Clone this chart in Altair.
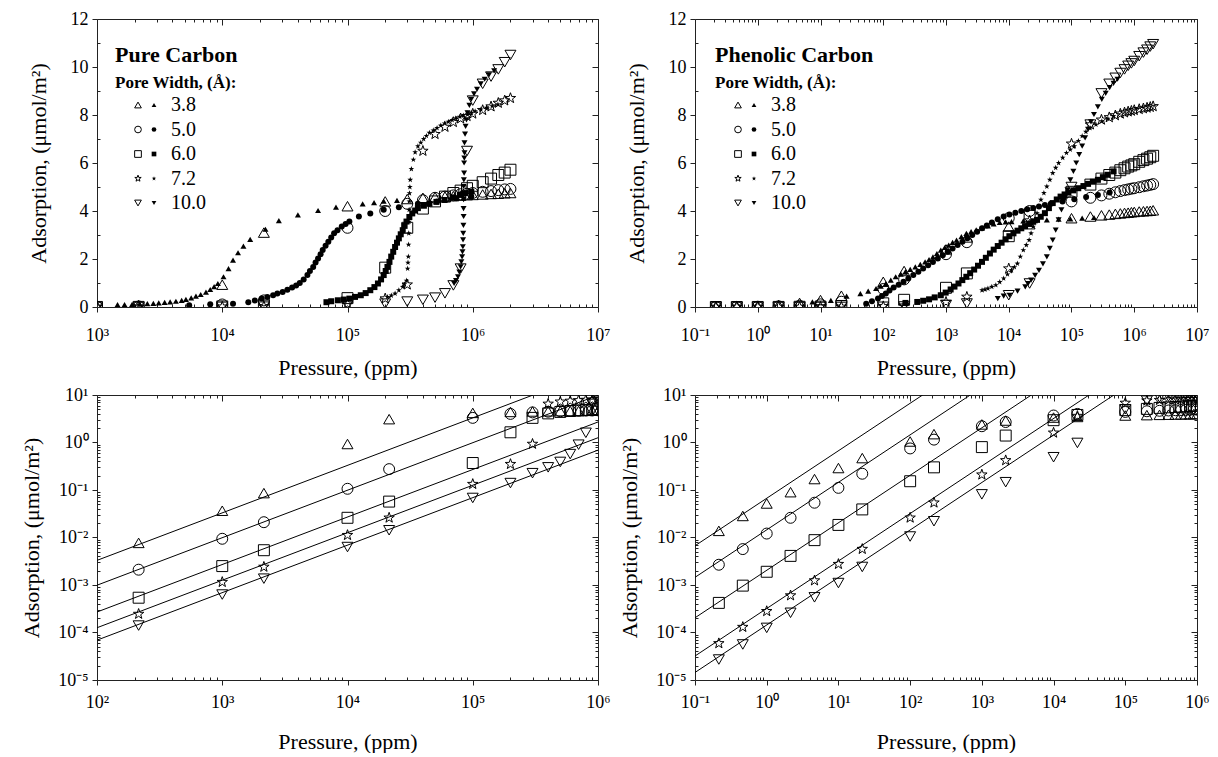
import altair as alt
import pandas as pd

FONT = "Liberation Serif"

PORES = ["3.8", "5.0", "6.0", "7.2", "10.0"]
STAR = ("M0,-1L0.235,-0.324L0.951,-0.309L0.38,0.124L0.588,0.809L0,0.4"
        "L-0.588,0.809L-0.38,0.124L-0.951,-0.309L-0.235,-0.324Z")
SHAPES = ["triangle-up", "circle", "square", STAR, "triangle-down"]

# ---------------- open symbols (sparse simulation points) ----------------
PURE_P = [215, 1e3, 2150, 1e4, 21500, 1e5, 2e5, 3e5, 4e5, 5e5, 6e5, 7e5, 8e5, 9e5,
          1e6, 1.2e6, 1.4e6, 1.6e6, 1.8e6, 2e6]
PURE_OPEN = {
    "3.8": [0.0077, 0.0366, 0.086, 0.93, 3.1, 4.2, 4.4, 4.5, 4.55, 4.58, 4.6, 4.62, 4.64, 4.66,
            4.67, 4.69, 4.71, 4.72, 4.74, 4.75],
    "5.0": [0.0021, 0.0094, 0.021, 0.106, 0.275, 3.3, 4.0, 4.3, 4.45, 4.55, 4.6, 4.65, 4.7, 4.72,
            4.75, 4.8, 4.83, 4.87, 4.9, 4.92],
    "6.0": [0.00054, 0.0025, 0.0054, 0.026, 0.057, 0.37, 1.64, 3.3, 4.1, 4.4, 4.6, 4.75, 4.85, 4.95,
            5.05, 5.2, 5.35, 5.5, 5.6, 5.72],
    "7.2": [0.000245, 0.00115, 0.0024, 0.0112, 0.026, 0.133, 0.35, 0.93, 6.5, 7.2, 7.5, 7.7, 7.85, 7.95,
            8.05, 8.2, 8.35, 8.5, 8.6, 8.7],
    "10.0": [0.00014, 0.00063, 0.00136, 0.0063, 0.0142, 0.068, 0.14, 0.226, 0.30, 0.39, 0.57, 0.9, 1.6, 6.5,
             8.6, 9.3, 9.6, 9.9, 10.2, 10.5],
}

PHEN_P = [0.215, 0.464, 1, 2.15, 4.64, 10, 21.5, 100, 215, 1e3, 2150, 1e4, 21500, 1e5,
          2e5, 3e5, 4e5, 5e5, 6e5, 7e5, 8e5, 9e5, 1e6, 1.2e6, 1.4e6, 1.6e6, 1.8e6, 2e6]
PHEN_OPEN = {
    "3.8": [0.0138, 0.0284, 0.052, 0.09, 0.17, 0.29, 0.47, 1.05, 1.5, 2.4, 2.9, 3.35, 3.45, 3.7,
            3.77, 3.82, 3.85, 3.88, 3.9, 3.92, 3.93, 3.95, 3.96, 3.98, 3.99, 4.0, 4.01, 4.03],
    "5.0": [0.00267, 0.0057, 0.0121, 0.026, 0.054, 0.111, 0.22, 0.75, 1.15, 2.2, 2.7, 3.7, 4.0, 4.4,
            4.55, 4.65, 4.72, 4.78, 4.83, 4.87, 4.9, 4.93, 4.95, 4.99, 5.03, 5.06, 5.09, 5.12],
    "6.0": [0.00042, 0.00097, 0.0019, 0.0041, 0.0088, 0.0184, 0.039, 0.153, 0.30, 0.8, 1.4, 2.95, 3.8, 4.8,
            5.1, 5.35, 5.5, 5.6, 5.7, 5.78, 5.85, 5.9, 5.95, 6.05, 6.12, 6.18, 6.24, 6.3],
    "7.2": [5.9e-5, 0.00013, 0.00028, 0.0006, 0.00124, 0.00275, 0.0057, 0.026, 0.054, 0.21, 0.42, 1.6, 3.6, 6.8,
            7.6, 7.8, 7.9, 7.98, 8.05, 8.1, 8.14, 8.17, 8.2, 8.24, 8.27, 8.3, 8.33, 8.36],
    "10.0": [2.7e-5, 5.6e-5, 0.000125, 0.00026, 0.00055, 0.0011, 0.0024, 0.0105, 0.022, 0.081, 0.146, 0.49, 0.98, 5.0,
             7.6, 8.9, 9.3, 9.55, 9.75, 9.9, 10.05, 10.15, 10.25, 10.45, 10.6, 10.72, 10.85, 10.95],
}

# ---------------- filled symbols (dense curves): log10(pressure) and adsorption ----------------
PURE_FILLED_LOGP = {
    "3.8": [3.164, 3.280, 3.402, 3.493, 3.584, 3.676, 3.752, 3.828, 3.904, 3.965, 4.010, 4.050, 4.086,
            4.126, 4.169, 4.223, 4.345, 4.452, 4.604, 4.765, 4.908, 5.121, 5.212, 5.289, 5.395,
            3.22, 3.34, 3.45, 3.54, 3.63, 3.71, 3.79, 3.87, 3.935],
    "5.0": [3.736, 3.904, 4.086, 4.208, 4.315, 4.406, 4.482, 4.558, 4.619, 4.680, 4.726, 4.765, 4.802,
            4.847, 4.893, 4.954, 5.015, 5.091, 5.182, 5.289, 5.410, 5.562, 5.715, 5.867, 5.988,
            4.26, 4.36, 4.44, 4.52, 4.59, 4.65, 4.70, 4.745, 4.785, 4.825, 4.87, 4.92, 4.985],
    "6.0": [4.832, 4.923, 5.015, 5.106, 5.182, 5.243, 5.289, 5.319, 5.349, 5.380, 5.410, 5.441, 5.471,
            5.517, 5.562, 5.654, 5.775, 5.897, 5.988,
            4.87, 4.97, 5.06, 5.145, 5.215, 5.268, 5.305, 5.335, 5.365, 5.395, 5.425, 5.456, 5.494,
            5.54, 5.61, 5.71, 5.84, 5.94],
    "7.2": [5.319, 5.380, 5.441, 5.471, 5.480, 5.486, 5.489, 5.492, 5.495, 5.501, 5.526, 5.562, 5.608,
            5.654, 5.715, 5.775, 5.836, 5.897, 5.958, 6.019, 6.110, 6.201,
            5.35, 5.41, 5.455, 5.483, 5.4875, 5.4905, 5.4935, 5.498, 5.51, 5.54, 5.585, 5.63, 5.685,
            5.745, 5.805, 5.865, 5.925, 5.99, 6.065, 6.155],
    "10.0": [5.851, 5.882, 5.903, 5.915, 5.921, 5.924, 5.927, 5.927, 5.927, 5.931, 5.931, 5.934, 5.934,
             5.943, 5.958, 5.988, 6.034, 6.095, 6.171,
             5.866, 5.893, 5.909, 5.918, 5.9225, 5.9255, 5.9265, 5.927, 5.929, 5.9325, 5.9385, 5.95,
             5.973, 6.01, 6.064, 6.13],
}
PURE_FILLED_Y = {
    "3.8": [0.10, 0.11, 0.14, 0.17, 0.21, 0.28, 0.38, 0.52, 0.73, 0.98, 1.26, 1.60, 1.95,
            2.26, 2.54, 2.82, 3.24, 3.60, 3.84, 4.02, 4.16, 4.30, 4.35, 4.41, 4.44,
            0.10, 0.12, 0.15, 0.19, 0.24, 0.32, 0.45, 0.62, 0.85],
    "5.0": [0.07, 0.11, 0.14, 0.20, 0.35, 0.49, 0.63, 0.81, 1.00, 1.33, 1.67, 2.02, 2.37,
            2.72, 3.07, 3.35, 3.56, 3.77, 3.90, 4.05, 4.16, 4.30, 4.40, 4.53, 4.60,
            0.27, 0.42, 0.56, 0.72, 0.90, 1.15, 1.50, 1.85, 2.20, 2.55, 2.90, 3.20, 3.46],
    "6.0": [0.20, 0.28, 0.35, 0.49, 0.70, 0.98, 1.33, 1.67, 2.10, 2.50, 2.86, 3.20, 3.56,
            3.90, 4.12, 4.30, 4.46, 4.67, 4.81,
            0.24, 0.31, 0.42, 0.58, 0.83, 1.15, 1.50, 1.88, 2.30, 2.68, 3.03, 3.38, 3.75,
            4.02, 4.22, 4.38, 4.57, 4.74],
    "7.2": [0.42, 0.56, 0.84, 1.10, 1.60, 2.10, 3.07, 4.05, 4.74, 5.30, 6.14, 6.70, 7.00,
            7.26, 7.46, 7.65, 7.79, 7.93, 8.02, 8.16, 8.30, 8.44,
            0.48, 0.70, 0.95, 1.85, 2.60, 3.55, 4.40, 5.00, 5.75, 6.45, 6.85, 7.13, 7.36,
            7.56, 7.72, 7.86, 7.98, 8.09, 8.23, 8.37],
    "10.0": [0.98, 1.26, 1.67, 2.09, 2.51, 3.07, 3.77, 4.47, 5.02, 5.58, 6.00, 6.42, 6.84,
             7.53, 8.09, 8.65, 9.07, 9.49, 9.84,
             1.10, 1.45, 1.88, 2.30, 2.80, 3.40, 4.10, 4.75, 5.30, 6.20, 7.20, 7.80,
             8.40, 8.88, 9.30, 9.67],
}
PHEN_FILLED_LOGP = {
    "3.8": [0.871, 1.165, 1.416, 1.635, 1.885, 2.041, 2.198, 2.354, 2.511, 2.667, 2.792, 2.917, 3.043,
            3.168, 3.324, 3.481, 3.668, 3.856, 4.044, 4.232, 4.419, 4.607, 4.795, 4.982, 5.170, 5.358,
            1.76, 1.96, 2.12, 2.28, 2.43, 2.59, 2.73, 2.855, 2.98, 3.105, 3.245, 3.40, 3.575, 3.76, 3.95],
    "5.0": [1.728, 1.916, 2.041, 2.166, 2.323, 2.479, 2.636, 2.792, 2.949, 3.105, 3.262, 3.418,
            3.574, 3.731, 3.919, 4.106, 4.294, 4.482, 4.670, 4.857, 5.045, 5.233, 5.421, 5.608,
            1.82, 1.98, 2.10, 2.245, 2.40, 2.56, 2.715, 2.87, 3.027, 3.185, 3.34, 3.496, 3.65,
            3.825, 4.01, 4.20, 4.39, 4.576],
    "6.0": [2.354, 2.542, 2.730, 2.917, 3.074, 3.199, 3.324, 3.449, 3.574, 3.700, 3.825, 3.950, 4.075,
            4.200, 4.325, 4.451, 4.576, 4.701, 4.826, 4.951, 5.108, 5.264, 5.421, 5.577, 5.671,
            2.636, 2.82, 2.995, 3.135, 3.26, 3.385, 3.51, 3.635, 3.76, 3.886, 4.01, 4.14, 4.26,
            4.39, 4.51, 4.64, 4.765, 4.89, 5.03, 5.19, 5.34, 5.50],
    "7.2": [3.574, 3.668, 3.794, 3.919, 4.044, 4.138, 4.232, 4.325, 4.388, 4.451, 4.513, 4.607, 4.701,
            4.795, 4.920, 5.045, 5.170, 5.295, 5.483, 5.671,
            3.62, 3.73, 3.856, 3.98, 4.09, 4.185, 4.28, 4.356, 4.42, 4.48, 4.56, 4.655, 4.748,
            4.86, 4.98, 5.11, 5.23, 5.39, 5.58],
    "10.0": [3.825, 3.919, 4.013, 4.263, 4.357, 4.482, 4.607, 4.701, 4.795, 4.889, 4.982, 5.076, 5.170,
             5.264, 5.358, 5.483, 5.608, 5.733,
             4.14, 4.31, 4.42, 4.545, 4.655, 4.748, 4.84, 4.935, 5.03, 5.123, 5.217, 5.31, 5.42,
             5.545, 5.67],
}
PHEN_FILLED_Y = {
    "3.8": [0.21, 0.28, 0.45, 0.56, 0.77, 0.98, 1.26, 1.47, 1.67, 1.88, 2.09, 2.37, 2.58,
            2.79, 3.07, 3.21, 3.38, 3.52, 3.56, 3.59, 3.60, 3.63, 3.66, 3.67, 3.70, 3.73,
            0.66, 0.87, 1.12, 1.37, 1.57, 1.78, 1.98, 2.23, 2.48, 2.69, 2.93, 3.14, 3.30, 3.46, 3.55],
    "5.0": [0.14, 0.35, 0.56, 0.81, 1.05, 1.33, 1.60, 1.88, 2.16, 2.44, 2.72, 3.00,
            3.28, 3.52, 3.77, 3.93, 4.07, 4.19, 4.30, 4.40, 4.49, 4.58, 4.67, 4.77,
            0.24, 0.46, 0.69, 0.93, 1.19, 1.47, 1.74, 2.02, 2.30, 2.58, 2.86, 3.14, 3.40,
            3.66, 3.85, 4.00, 4.13, 4.25],
    "6.0": [0.17, 0.21, 0.32, 0.49, 0.73, 0.98, 1.26, 1.56, 1.88, 2.23, 2.54, 2.82, 3.07,
            3.28, 3.46, 3.63, 3.91, 4.33, 4.60, 4.77, 4.95, 5.13, 5.30, 5.51, 5.65,
            0.26, 0.40, 0.60, 0.85, 1.12, 1.41, 1.72, 2.05, 2.39, 2.68, 2.95, 3.18, 3.37,
            3.55, 3.76, 4.12, 4.48, 4.69, 4.86, 5.04, 5.22, 5.41],
    "7.2": [0.70, 0.77, 0.91, 1.19, 1.53, 1.81, 2.37, 2.79, 3.35, 3.91, 4.47, 5.02, 5.58,
            6.00, 6.42, 6.70, 7.12, 7.46, 7.74, 7.95,
            0.73, 0.84, 1.04, 1.36, 1.66, 2.10, 2.58, 3.07, 3.63, 4.19, 4.75, 5.30, 5.80,
            6.22, 6.56, 6.92, 7.30, 7.60, 7.85],
    "10.0": [0.35, 0.45, 0.49, 0.84, 1.12, 1.53, 2.09, 2.79, 3.63, 4.47, 5.30, 6.00, 6.70,
             7.40, 8.02, 8.65, 9.14, 9.49,
             0.66, 0.98, 1.32, 1.80, 2.44, 3.20, 4.05, 4.88, 5.65, 6.35, 7.05, 7.71, 8.34,
             8.90, 9.32],
}

# ---------------- Henry's-law fit constants (adsorption = K * P) ----------------
PURE_K = {"3.8": 3.3e-5, "5.0": 9.9e-6, "6.0": 2.7e-6, "7.2": 1.26e-6, "10.0": 6.9e-7}
PHEN_K = {"3.8": 0.067, "5.0": 0.0145, "6.0": 0.00204, "7.2": 3.2e-4, "10.0": 1.44e-4}

# ---------------- helpers ----------------
shape_scale = alt.Scale(domain=PORES, range=SHAPES)
SUP = "['\u2070','\u00b9','\u00b2','\u00b3','\u2074','\u2075','\u2076','\u2077','\u2078','\u2079']"
LOG_LABEL = "'10' + (datum.value < 1 ? '\u207b' : '') + " + SUP + "[abs(round(log(datum.value) / LN10))]"
YTITLE = "Adsorption, (\u03bcmol/m\u00b2)"
XTITLE = "Pressure, (ppm)"


def log_ticks(lo, hi):
    majors = [10.0 ** e for e in range(lo, hi + 1)]
    minors = [k * 10.0 ** e for e in range(lo, hi) for k in range(2, 10)]
    return majors, minors


def open_df(P, table):
    rows = []
    for pore in PORES:
        for p, a in zip(P, table[pore]):
            rows.append({"pore": pore, "P": p, "A": a})
    return pd.DataFrame(rows)


def filled_df(logp, ytab):
    rows = []
    for pore in PORES:
        for lp, a in zip(logp[pore], ytab[pore]):
            rows.append({"pore": pore, "P": 10.0 ** lp, "A": a})
    return pd.DataFrame(rows)


def henry_df(K, xmin, xmax, ymax):
    rows = []
    for pore in PORES:
        pend = min(xmax, ymax / K[pore])
        rows.append({"pore": pore, "P": xmin, "A": K[pore] * xmin})
        rows.append({"pore": pore, "P": pend, "A": K[pore] * pend})
    return pd.DataFrame(rows)


def legend_layers(title, dx):
    leg = pd.DataFrame({"pore": PORES})
    leg["py"] = [86 + 24.5 * i for i in range(len(PORES))]
    leg["px_open"] = dx + 23
    leg["px_fill"] = dx + 39
    leg["px_text"] = dx + 56
    hdr = pd.DataFrame({"t": [title], "px": [dx], "py": [36]})
    sub = pd.DataFrame({"t": ["Pore Width, (\u00c5):"], "px": [dx], "py": [64]})
    px = lambda f: alt.X(f + ":Q", scale=None, axis=None)
    py = alt.Y("py:Q", scale=None, axis=None)
    return [
        alt.Chart(hdr).mark_text(align="left", baseline="middle", font=FONT, fontSize=22,
                                 fontWeight="bold", color="black").encode(x=px("px"), y=py, text="t:N"),
        alt.Chart(sub).mark_text(align="left", baseline="middle", font=FONT, fontSize=17,
                                 fontWeight="bold", color="black").encode(x=px("px"), y=py, text="t:N"),
        alt.Chart(leg).mark_point(filled=False, size=45, color="black", strokeWidth=1, opacity=1).encode(
            x=px("px_open"), y=py, shape=alt.Shape("pore:N", scale=shape_scale, legend=None)),
        alt.Chart(leg).mark_point(filled=True, size=22, color="black", opacity=1).encode(
            x=px("px_fill"), y=py, shape=alt.Shape("pore:N", scale=shape_scale, legend=None)),
        alt.Chart(leg).mark_text(align="left", baseline="middle", font=FONT, fontSize=20,
                                 color="black").encode(x=px("px_text"), y=py, text="pore:N"),
    ]


def panel(xlo, xhi, ylog, odf, fdf=None, hdf=None, legend=None, width=501, height=288,
          lab_pad=7, title_pad=10, ytitle_pad=14):
    xmaj, xmin_ = log_ticks(xlo, xhi)
    xscale = alt.Scale(type="log", domain=[10.0 ** xlo, 10.0 ** xhi], nice=False)
    if ylog:
        ymaj, ymin_ = log_ticks(-5, 1)
        yscale = alt.Scale(type="log", domain=[1e-5, 10], nice=False)
        ylabel = LOG_LABEL
    else:
        ymaj = [0, 2, 4, 6, 8, 10, 12]
        ymin_ = [1, 3, 5, 7, 9, 11]
        yscale = alt.Scale(domain=[0, 12], nice=False, zero=True)
        ylabel = "datum.value"

    def xa(**kw):
        base = dict(domain=False, grid=False, labelFlush=False, labelOverlap=False, tickColor="#222")
        base.update(kw)
        return alt.Axis(**base)

    x_main = xa(orient="bottom", values=xmaj, labelExpr=LOG_LABEL, title=XTITLE, tickSize=5,
                labelPadding=lab_pad, titlePadding=title_pad)
    y_main = xa(orient="left", values=ymaj, labelExpr=ylabel, title=YTITLE, tickSize=5,
                labelPadding=4, titlePadding=ytitle_pad)
    x_in = xa(orient="bottom", values=xmin_, labels=False, title=None, tickSize=3, offset=-3)
    y_in = xa(orient="left", values=ymin_, labels=False, title=None, tickSize=3, offset=-3)
    x_top = xa(orient="top", values=xmaj, labels=False, title=None, tickSize=6, offset=-6)
    y_right = xa(orient="right", values=ymaj, labels=False, title=None, tickSize=6, offset=-6)
    x_top2 = xa(orient="top", values=xmin_, labels=False, title=None, tickSize=3, offset=-3)
    y_right2 = xa(orient="right", values=ymin_, labels=False, title=None, tickSize=3, offset=-3)

    shape = alt.Shape("pore:N", scale=shape_scale, legend=None)
    layers = []
    if hdf is not None:
        layers.append(alt.Chart(hdf).mark_line(color="black", strokeWidth=1, clip=True).encode(
            x=alt.X("P:Q", scale=xscale, axis=None), y=alt.Y("A:Q", scale=yscale, axis=None),
            detail="pore:N"))
    if fdf is not None:
        layers.append(alt.Chart(fdf).mark_point(filled=True, size=36, color="black", opacity=1,
                                                clip=True).encode(
            x=alt.X("P:Q", scale=xscale, axis=None), y=alt.Y("A:Q", scale=yscale, axis=None),
            shape=shape))
    layers.append(alt.Chart(odf).mark_point(filled=False, size=120, color="black", strokeWidth=1,
                                            opacity=1, clip=True).encode(
        x=alt.X("P:Q", scale=xscale, axis=x_main), y=alt.Y("A:Q", scale=yscale, axis=y_main),
        shape=shape))
    for ax_x, ax_y in [(x_in, y_in), (x_top, y_right), (x_top2, y_right2)]:
        layers.append(alt.Chart(odf).mark_point(opacity=0, clip=True).encode(
            x=alt.X("P:Q", scale=xscale, axis=ax_x), y=alt.Y("A:Q", scale=yscale, axis=ax_y)))
    if legend is not None:
        layers.extend(legend)
    return alt.layer(*layers).resolve_axis(x="independent", y="independent").properties(
        width=width, height=height)


# ---------------- panels ----------------
pure_open = open_df(PURE_P, PURE_OPEN)
phen_open = open_df(PHEN_P, PHEN_OPEN)

tl = panel(3, 7, False, pure_open[pure_open.P >= 1e3],
           fdf=filled_df(PURE_FILLED_LOGP, PURE_FILLED_Y),
           legend=legend_layers("Pure Carbon", 18), lab_pad=14, title_pad=13, ytitle_pad=20)
tr = panel(-1, 7, False, phen_open,
           fdf=filled_df(PHEN_FILLED_LOGP, PHEN_FILLED_Y),
           legend=legend_layers("Phenolic Carbon", 20), lab_pad=14, title_pad=13, ytitle_pad=20,
           width=502)
bl = panel(2, 6, True, pure_open[(pure_open.P >= 1e2) & (pure_open.P <= 1e6)],
           hdf=henry_df(PURE_K, 1e2, 1e6, 10), height=285, lab_pad=8, title_pad=20,
           ytitle_pad=14)
br = panel(-1, 6, True, phen_open[phen_open.P <= 1e6],
           hdf=henry_df(PHEN_K, 1e-1, 1e6, 10), width=502, height=285, lab_pad=8, title_pad=20,
           ytitle_pad=14)

chart = alt.concat(tl, tr, bl, br, columns=2, spacing={"row": 88, "column": 97},
                   bounds="flush").properties(
    padding={"left": 12, "top": 1, "right": 0, "bottom": 0}
).configure_view(stroke="#222", strokeWidth=1).configure_axis(
    labelFont=FONT, titleFont=FONT, labelFontSize=18, titleFontSize=22, titleFontWeight="normal",
    labelColor="black", titleColor="black", tickWidth=1
)

chart.save("out.html", embed_options={"renderer": "svg", "actions": False})
